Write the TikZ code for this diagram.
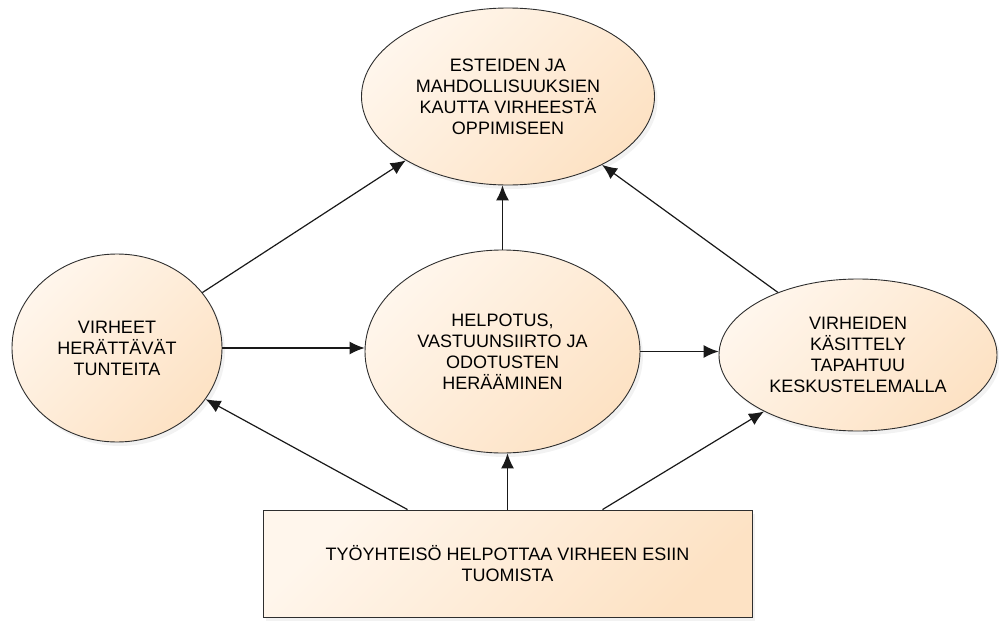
\documentclass[tikz,border=0pt]{standalone}
\usepackage{fontspec}
\setmainfont{Liberation Sans}
\usetikzlibrary{shapes.geometric,arrows.meta,shadows}
\definecolor{persikka}{HTML}{FDE2C4}
\definecolor{vaalea}{HTML}{FFF6EC}
\definecolor{reuna}{HTML}{2E2E2E}

\begin{document}
\begin{tikzpicture}[x=1pt, y=-1pt,
    pohja/.style={draw=reuna, line width=0.9pt, top color=vaalea, bottom color=persikka, shading angle=45,
        drop shadow={opacity=0.10, shadow xshift=3pt, shadow yshift=-4pt},
        font=\fontsize{18}{21}\selectfont, align=center, inner sep=0pt},
    soikio/.style={pohja, ellipse},
    laatikko/.style={pohja, rectangle},
    nuoli/.style={draw=black!90, line width=1.2pt, -{Latex[length=15pt,width=13pt]}}]
    \useasboundingbox (0,0) rectangle (999,621);

    % Solmut
    \node[soikio, minimum width=293pt, minimum height=177pt] (oppi) at (508,96.5)
        {ESTEIDEN JA\\MAHDOLLISUUKSIEN\\KAUTTA VIRHEESTÄ\\OPPIMISEEN};
    \node[soikio, minimum width=210pt, minimum height=188pt] (tunne) at (117,348)
        {VIRHEET\\HERÄTTÄVÄT\\TUNTEITA};
    \node[soikio, minimum width=275pt, minimum height=203pt] (helpotus) at (502.5,351.5)
        {HELPOTUS,\\VASTUUNSIIRTO JA\\ODOTUSTEN\\HERÄÄMINEN};
    \node[soikio, minimum width=278pt, minimum height=152pt] (kasittely) at (858,355)
        {VIRHEIDEN\\KÄSITTELY\\TAPAHTUU\\KESKUSTELEMALLA};
    \node[laatikko, minimum width=489pt, minimum height=107pt] (yhteiso) at (507.5,563.5)
        {TYÖYHTEISÖ HELPOTTAA VIRHEEN ESIIN\\TUOMISTA};

    % Nuolet ylös
    \draw[nuoli] (tunne.33) -- (oppi.-148);
    \draw[nuoli] (helpotus.north) -- (helpotus.north |- oppi.south);
    \draw[nuoli] (kasittely.142) -- (oppi.-36);
    % Vaakanuolet
    \draw[nuoli] (tunne.east) -- (tunne.east -| helpotus.west);
    \draw[nuoli] (helpotus.east) -- (helpotus.east -| kasittely.west);
    % Laatikosta
    \draw[nuoli] ([xshift=-100pt]yhteiso.north) -- (tunne.-30);
    \draw[nuoli] (yhteiso.north) -- (yhteiso.north |- helpotus.south);
    \draw[nuoli] ([xshift=95pt]yhteiso.north) -- (kasittely.-149);
\end{tikzpicture}
\end{document}
